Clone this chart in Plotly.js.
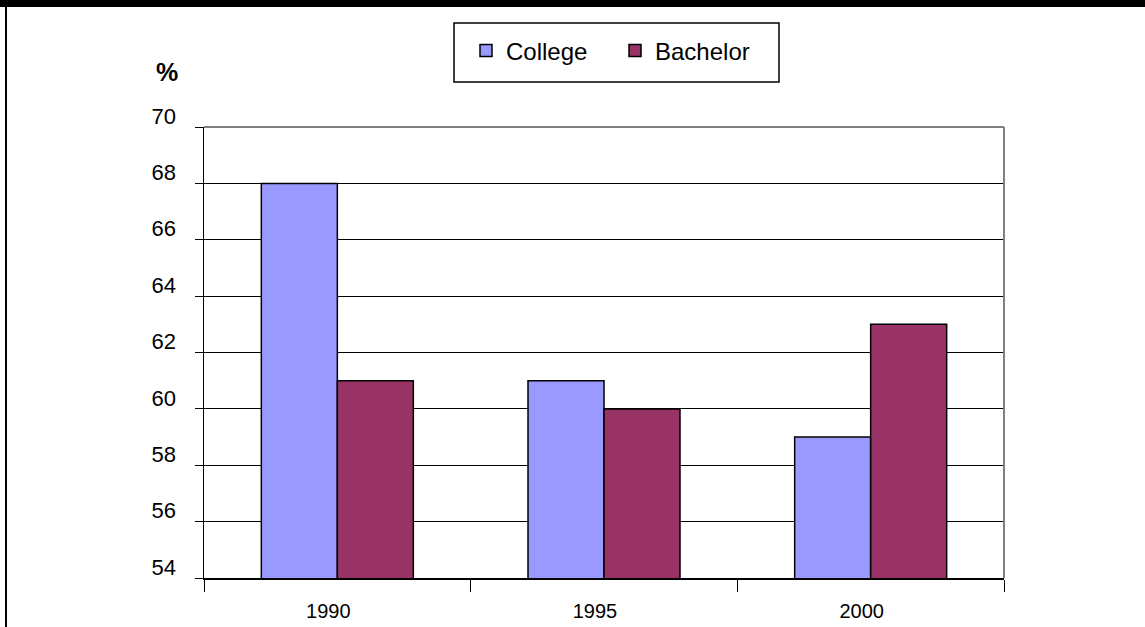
<!DOCTYPE html>
<html>
<head>
<meta charset="utf-8">
<script src="https://cdn.plot.ly/plotly-3.0.1.min.js"></script>
<style>
  html, body { margin: 0; padding: 0; background: #fff; }
  #wrap { position: relative; width: 1145px; height: 627px; overflow: hidden; }
  #chart { position: absolute; left: 0; top: 0; width: 1145px; height: 627px; }
  .bar-top { position: absolute; left: 0; top: 0; width: 1145px; height: 7px; background: #000; }
  .bar-left { position: absolute; left: 5px; top: 0; width: 2px; height: 627px; background: #000; }
</style>
</head>
<body>
<div id="wrap">
  <div id="chart"></div>
  <div class="bar-top"></div>
  <div class="bar-left"></div>
</div>
<script>
// Share of graduates (%) by year
const years = ['1990', '1995', '2000'];
const college = [68, 61, 59];
const bachelor = [61, 60, 63];

const font = 'Arial, "Liberation Sans", sans-serif';

const traces = [
  {
    type: 'bar', name: 'College', x: years, y: college,
    marker: { color: '#9999FF', line: { color: '#000', width: 1.5 } }
  },
  {
    type: 'bar', name: 'Bachelor', x: years, y: bachelor,
    marker: { color: '#993366', line: { color: '#000', width: 1.5 } }
  }
];

const layout = {
  width: 1145, height: 627,
  margin: { l: 204, r: 141, t: 127, b: 49, pad: 0, autoexpand: false },
  paper_bgcolor: '#fff', plot_bgcolor: '#fff',
  font: { family: font, size: 20, color: '#000' },
  barmode: 'group', bargap: 0.43, bargroupgap: 0,
  showlegend: true,
  legend: {
    orientation: 'h', x: 0.3275, xanchor: 'left', y: 1.1685, yanchor: 'middle',
    borderwidth: 0, bgcolor: 'rgba(0,0,0,0)',
    font: { family: font, size: 24, color: '#000' },
    itemwidth: 30, entrywidth: 104
  },
  xaxis: {
    type: 'category', tickson: 'boundaries',
    ticks: 'outside', ticklen: 12, tickcolor: '#000', tickwidth: 1,
    showline: true, linecolor: '#000', linewidth: 1.5,
    showgrid: false, zeroline: false,
    tickfont: { family: font, size: 20, color: '#000' },
    ticklabelstandoff: 14, ticklabelshift: -9,
    fixedrange: true
  },
  yaxis: {
    range: [54, 70], dtick: 2, tick0: 54,
    ticks: 'outside', ticklen: 8, tickcolor: '#000', tickwidth: 1,
    showline: true, linecolor: '#000', linewidth: 1.5,
    showgrid: true, gridcolor: '#000', gridwidth: 1,
    zeroline: false,
    tickfont: { family: font, size: 22, color: '#000' },
    ticklabelstandoff: 14, ticklabelshift: -11,
    fixedrange: true
  },
  shapes: [
    // gray frame on the top and right of the plot area
    { type: 'line', xref: 'paper', yref: 'paper', x0: 0, x1: 1, y0: 1, y1: 1,
      line: { color: '#808080', width: 2 }, layer: 'above' },
    { type: 'line', xref: 'paper', yref: 'paper', x0: 1, x1: 1, y0: 0, y1: 1,
      line: { color: '#808080', width: 2 }, layer: 'above' },
    // legend frame
    { type: 'rect', xref: 'paper', yref: 'paper', x0: 0.3125, x1: 0.71875, y0: 1.0998, y1: 1.2306,
      line: { color: '#000', width: 1.5 }, fillcolor: 'rgba(0,0,0,0)', layer: 'above' }
  ],
  annotations: [
    { text: '<b>%</b>', xref: 'paper', yref: 'paper', x: -0.046, y: 1.122,
      xanchor: 'center', yanchor: 'middle', showarrow: false,
      font: { family: font, size: 25, color: '#000' } }
  ]
};

Plotly.newPlot('chart', traces, layout, { displayModeBar: false, staticPlot: true });
</script>
</body>
</html>
